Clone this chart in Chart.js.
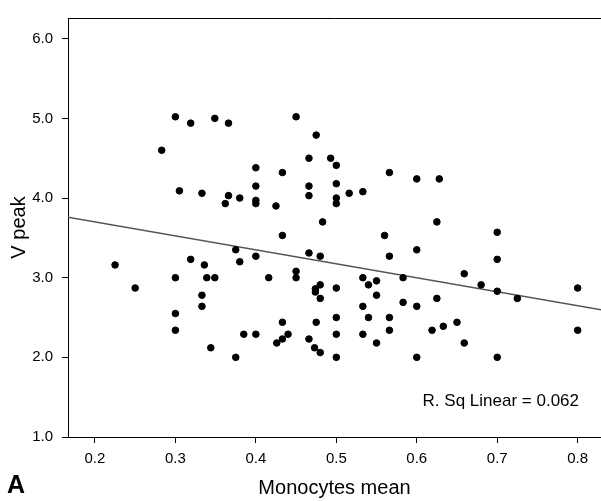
<!DOCTYPE html>
<html>
<head>
<meta charset="utf-8">
<script src="https://cdn.jsdelivr.net/npm/chart.js@4.4.1/dist/chart.umd.min.js"></script>
<style>
    html, body { margin: 0; padding: 0; background: #fff; }
    #wrap { width: 601px; height: 501px; }
</style>
</head>
<body>
<div id="wrap"><canvas id="scatter" width="601" height="501"></canvas></div>
<script>
// --- Data ---
const monocytes = [
    0.300, 0.319, 0.349, 0.366, 0.283, 0.400, 0.400, 0.305, 0.333, 0.366,
    0.380, 0.362, 0.400, 0.400, 0.375, 0.400, 0.319, 0.380, 0.225, 0.336,
    0.300, 0.339, 0.349, 0.250, 0.333, 0.333, 0.300, 0.300, 0.385, 0.400,
    0.344, 0.375, 0.450, 0.475, 0.466, 0.493, 0.500, 0.433, 0.566, 0.600,
    0.628, 0.466, 0.500, 0.516, 0.533, 0.466, 0.500, 0.500, 0.425, 0.483,
    0.625, 0.433, 0.560, 0.600, 0.466, 0.480, 0.566, 0.450, 0.700, 0.700,
    0.659, 0.450, 0.416, 0.533, 0.550, 0.583, 0.540, 0.480, 0.474, 0.474,
    0.500, 0.550, 0.480, 0.583, 0.600, 0.625, 0.533, 0.500, 0.540, 0.566,
    0.433, 0.475, 0.440, 0.433, 0.426, 0.466, 0.500, 0.533, 0.566, 0.619,
    0.633, 0.550, 0.473, 0.480, 0.500, 0.600, 0.680, 0.700, 0.725, 0.800,
    0.650, 0.659, 0.700, 0.800
];
const vPeak = [
    5.02, 4.94, 5.00, 4.94, 4.60, 4.38, 4.15, 4.09, 4.06, 4.03,
    4.00, 3.93, 3.97, 3.93, 3.35, 3.27, 3.23, 3.20, 3.16, 3.16,
    3.00, 3.00, 3.00, 2.87, 2.78, 2.64, 2.55, 2.34, 2.29, 2.29,
    2.12, 2.00, 5.02, 4.79, 4.50, 4.50, 4.41, 4.32, 4.32, 4.24,
    4.24, 4.15, 4.18, 4.06, 4.08, 4.03, 4.00, 3.93, 3.90, 3.70,
    3.70, 3.53, 3.53, 3.35, 3.31, 3.27, 3.27, 3.08, 3.57, 3.23,
    3.05, 3.00, 3.00, 3.00, 2.96, 3.00, 2.91, 2.91, 2.86, 2.82,
    2.87, 2.78, 2.74, 2.69, 2.64, 2.74, 2.64, 2.50, 2.50, 2.50,
    2.44, 2.44, 2.29, 2.23, 2.18, 2.23, 2.29, 2.29, 2.34, 2.34,
    2.39, 2.18, 2.12, 2.06, 2.00, 2.00, 2.91, 2.83, 2.74, 2.87,
    2.44, 2.18, 2.00, 2.34
];

// fitted line (linear regression shown in the figure)
const fitSlope = -1.754;
const fitIntercept = 4.052;

const xTicks = [0.2, 0.3, 0.4, 0.5, 0.6, 0.7, 0.8];
const yTicks = [1.0, 2.0, 3.0, 4.0, 5.0, 6.0];
const xMin = 0.1665, xMax = 0.829;
const yMin = 1.0, yMax = 6.26;

const rSqLabel = 'R. Sq Linear = 0.062';
const panelLabel = 'A';
const FONT = '"Liberation Sans", Arial, sans-serif';

const points = monocytes.map((x, i) => ({ x: x, y: vPeak[i] }));
const fitLine = [xMin, xMax].map(x => ({ x: x, y: fitIntercept + fitSlope * x }));

// top frame line + free text
const extras = {
    id: 'extras',
    afterDraw(chart) {
        const { ctx, chartArea: a } = chart;
        ctx.save();
        ctx.strokeStyle = '#000';
        ctx.lineWidth = 1;
        ctx.beginPath();
        ctx.moveTo(a.left, a.top + 0.5);
        ctx.lineTo(a.right, a.top + 0.5);
        ctx.stroke();

        ctx.fillStyle = '#000';
        ctx.textBaseline = 'middle';
        ctx.textAlign = 'right';
        ctx.font = '17px ' + FONT;
        ctx.fillText(rSqLabel, a.right - 22, 401);

        ctx.textAlign = 'left';
        ctx.font = 'bold 25px ' + FONT;
        ctx.fillText(panelLabel, 7, 486);
        ctx.restore();
    }
};

new Chart(document.getElementById('scatter').getContext('2d'), {
    type: 'scatter',
    data: {
        datasets: [
            {
                data: points,
                backgroundColor: '#000',
                borderColor: '#000',
                pointRadius: 3.3,
                pointHoverRadius: 3.3,
                order: 0
            },
            {
                type: 'line',
                data: fitLine,
                borderColor: '#555',
                borderWidth: 1.5,
                pointRadius: 0,
                fill: false,
                order: 1
            }
        ]
    },
    options: {
        responsive: false,
        devicePixelRatio: 1,
        animation: false,
        layout: { autoPadding: false, padding: { top: 8, right: 0, bottom: 0, left: 0 } },
        plugins: {
            legend: { display: false },
            tooltip: { enabled: false }
        },
        scales: {
            x: {
                type: 'linear',
                min: xMin,
                max: xMax,
                border: { display: true, color: '#000', width: 1 },
                grid: { drawOnChartArea: false, drawTicks: true, tickLength: 6, color: '#000' },
                ticks: {
                    color: '#000',
                    padding: 7,
                    maxRotation: 0,
                    font: { family: FONT, size: 15 },
                    callback: v => v.toFixed(1)
                },
                afterBuildTicks: s => { s.ticks = xTicks.map(v => ({ value: v })); },
                afterFit: s => { s.height = 64; },
                title: {
                    display: true,
                    text: 'Monocytes mean',
                    color: '#000',
                    font: { family: FONT, size: 20 },
                    padding: { top: 0, bottom: 1 }
                }
            },
            y: {
                type: 'linear',
                min: yMin,
                max: yMax,
                border: { display: true, color: '#000', width: 1 },
                grid: { drawOnChartArea: false, drawTicks: true, tickLength: 6, color: '#000' },
                ticks: {
                    color: '#000',
                    padding: 9,
                    font: { family: FONT, size: 15 },
                    callback: v => v.toFixed(1)
                },
                afterBuildTicks: s => { s.ticks = yTicks.map(v => ({ value: v })); },
                afterFit: s => { s.width = 68; },
                title: {
                    display: true,
                    text: 'V peak',
                    color: '#000',
                    font: { family: FONT, size: 20 },
                    padding: { top: 7, bottom: 0 }
                }
            }
        }
    },
    plugins: [extras]
});
</script>
</body>
</html>
